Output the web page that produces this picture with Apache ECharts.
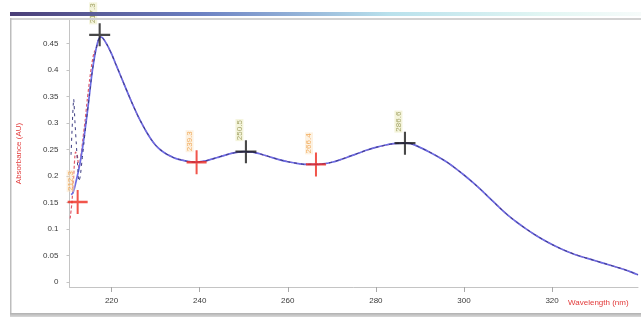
<!DOCTYPE html>
<html>
<head>
<meta charset="utf-8">
<script src="https://cdn.jsdelivr.net/npm/echarts@6/dist/echarts.min.js"></script>
<style>
  html, body { margin: 0; padding: 0; background: #ffffff; }
  #chart { width: 641px; height: 321px; }
</style>
</head>
<body>
<div id="chart"></div>
<script>
// UV absorbance spectrum, overlay of three scans with peak / valley picks

// wavelength grid (nm) and absorbance (AU) of the main scan
var wavelengths = [210.8, 211.2, 211.6, 212, 212.5, 213, 213.5, 214, 214.5, 215, 215.5, 216, 216.5, 217, 217.5, 218, 219, 220, 221, 222, 223, 224, 225, 226, 227, 228, 229, 230, 231, 232, 233, 234, 235, 236, 237, 238, 239, 240, 241, 242, 244, 246, 248, 250, 252, 254, 256, 258, 260, 262, 264, 266, 268, 270, 272, 274, 276, 278, 280, 282, 284, 286, 287, 288, 290, 292, 294, 296, 298, 300, 302, 304, 306, 308, 310, 312, 314, 316, 318, 320, 322, 324, 326, 328, 330, 332, 334, 336, 338, 339.5];
var absMain = [0.165, 0.168, 0.178, 0.192, 0.21, 0.232, 0.258, 0.288, 0.32, 0.355, 0.39, 0.418, 0.44, 0.456, 0.462, 0.46, 0.447, 0.43, 0.41, 0.39, 0.37, 0.35, 0.331, 0.313, 0.297, 0.282, 0.269, 0.258, 0.25, 0.244, 0.239, 0.235, 0.232, 0.23, 0.228, 0.227, 0.226, 0.227, 0.228, 0.23, 0.235, 0.24, 0.244, 0.246, 0.245, 0.241, 0.236, 0.231, 0.227, 0.224, 0.222, 0.222, 0.223, 0.226, 0.231, 0.237, 0.243, 0.249, 0.254, 0.258, 0.261, 0.262, 0.262, 0.261, 0.254, 0.246, 0.237, 0.227, 0.215, 0.202, 0.188, 0.173, 0.157, 0.141, 0.126, 0.113, 0.101, 0.09, 0.08, 0.071, 0.063, 0.056, 0.05, 0.045, 0.04, 0.035, 0.03, 0.025, 0.019, 0.014];

// second scan (red, dashed): its own noisy start, then it follows the main trace
var redStartWl = [210.6, 211.0, 211.4, 211.8, 212.2, 212.6, 213.0, 213.5, 214, 214.5, 215, 215.5, 216];
var redStartAbs = [0.12, 0.15, 0.2, 0.245, 0.24, 0.215, 0.235, 0.27, 0.305, 0.345, 0.38, 0.41, 0.432];

// third scan (dark, dashed): noisy spike at the start
var blackStartWl = [210.8, 211.1, 211.4, 211.7, 212.0, 212.3, 212.6, 212.9, 213.3, 213.7, 214.2];
var blackStartAbs = [0.24, 0.3, 0.345, 0.3, 0.26, 0.22, 0.19, 0.2, 0.23, 0.26, 0.3];

// picked maxima and minima
var peakWl = [217.3, 250.5, 286.6];
var peakAbs = [0.466, 0.246, 0.262];
var valleyWl = [212.3, 239.3, 266.4];
var valleyAbs = [0.151, 0.226, 0.222];

// axis ticks
var yTicks = [0, 0.05, 0.1, 0.15, 0.2, 0.25, 0.3, 0.35, 0.4, 0.45];
var xTicks = [220, 240, 260, 280, 300, 320];

function pairs(xs, ys) {
  return xs.map(function (x, i) { return [x, ys[i]]; });
}

var mainData = pairs(wavelengths, absMain);
var cutRed = wavelengths.indexOf(216.5);
var redData = pairs(redStartWl, redStartAbs).concat(mainData.slice(cutRed));
var cutBlack = wavelengths.indexOf(214.5);
var blackData = pairs(blackStartWl, blackStartAbs).concat(mainData.slice(cutBlack));

var plusPath = 'path://M9,0h2v9h9v2h-9v9h-2v-9h-9v-2h9z';
var font = 'Liberation Sans';

var chart = echarts.init(document.getElementById('chart'), null, { renderer: 'canvas' });

chart.setOption({
  animation: false,
  backgroundColor: '#ffffff',
  grid: { left: 69.5, right: 3, top: 20, bottom: 34, containLabel: false },
  xAxis: {
    type: 'value',
    min: 210.45,
    max: 339.5,
    axisLine: { show: true, onZero: false, lineStyle: { color: '#c4c4c4', width: 1 } },
    axisTick: { show: true, customValues: xTicks, length: 5, lineStyle: { color: '#a8a8a8' } },
    axisLabel: { customValues: xTicks, color: '#3a3a3a', fontSize: 8, fontFamily: font, margin: 10 },
    splitLine: { show: false }
  },
  yAxis: {
    type: 'value',
    min: -0.009,
    max: 0.494,
    name: 'Absorbance (AU)',
    nameLocation: 'middle',
    nameRotate: 90,
    nameGap: 47,
    nameTextStyle: { color: '#e23a3a', fontSize: 8, fontFamily: font },
    axisLine: { show: true, onZero: false, lineStyle: { color: '#c4c4c4', width: 1 } },
    axisTick: { show: true, customValues: yTicks, length: 3, lineStyle: { color: '#c4c4c4' } },
    axisLabel: { customValues: yTicks, color: '#3a3a3a', fontSize: 8, fontFamily: font, margin: 11 },
    splitLine: { show: false }
  },
  graphic: [
    {
      type: 'rect', left: 10, top: 12, z: 100,
      shape: { width: 631, height: 4 },
      style: {
        fill: new echarts.graphic.LinearGradient(0, 0, 1, 0, [
          { offset: 0, color: '#4a3e76' },
          { offset: 0.3, color: '#6b80c2' },
          { offset: 0.6, color: '#b9e1ec' },
          { offset: 0.85, color: '#e2f6f3' },
          { offset: 1, color: '#f6fbfa' }
        ])
      }
    },
    { type: 'rect', left: 10, top: 18, z: 100, shape: { width: 631, height: 2 }, style: { fill: '#d2d2d2' } },
    { type: 'rect', left: 10, top: 18, z: 100, shape: { width: 1.5, height: 296 }, style: { fill: '#bdbdbd' } },
    {
      type: 'rect', left: 10, top: 313, z: 100,
      shape: { width: 631, height: 4 },
      style: {
        fill: new echarts.graphic.LinearGradient(0, 0, 0, 1, [
          { offset: 0, color: '#b0b0b0' },
          { offset: 1, color: '#d8d8d8' }
        ])
      }
    },
    {
      type: 'text', left: 568, top: 299, z: 100,
      style: { text: 'Wavelength (nm)', fill: '#e23a3a', fontSize: 8, fontFamily: font }
    }
  ],
  series: [
    {
      type: 'line', name: 'scan 2', data: redData, symbol: 'none', smooth: 0.2,
      lineStyle: { color: '#e05a6a', width: 1.2, type: [3, 2] }, z: 2
    },
    {
      type: 'line', name: 'scan 1', data: mainData, symbol: 'none', smooth: 0.2,
      lineStyle: { color: '#6c6ce4', width: 1.7 }, z: 3
    },
    {
      type: 'line', name: 'scan 3', data: blackData, symbol: 'none', smooth: 0.2,
      lineStyle: { color: '#3a3a80', width: 1, type: [3, 4] }, z: 4
    },
    {
      type: 'scatter', name: 'valleys', data: pairs(valleyWl, valleyAbs),
      symbol: plusPath, symbolSize: [20, 24], symbolKeepAspect: false,
      itemStyle: { color: '#ee2a1e' }, z: 5,
      label: {
        show: true, rotate: 90, position: [3, 2], align: 'left', verticalAlign: 'middle',
        fontSize: 8, fontFamily: font, color: '#ef9a3c',
        backgroundColor: 'rgba(250,226,190,0.55)', padding: [0, 1],
        formatter: function (p) { return p.value[0].toFixed(1); }
      }
    },
    {
      type: 'scatter', name: 'peaks', data: pairs(peakWl, peakAbs),
      symbol: plusPath, symbolSize: [21, 23], symbolKeepAspect: false,
      itemStyle: { color: '#1a1a1a' }, z: 5,
      label: {
        show: true, rotate: 90, position: [4, 1], align: 'left', verticalAlign: 'middle',
        fontSize: 8, fontFamily: font, color: '#8e8e4a',
        backgroundColor: 'rgba(236,236,190,0.7)', padding: [0, 1],
        formatter: function (p) { return p.value[0].toFixed(1); }
      }
    }
  ]
});
</script>
</body>
</html>
